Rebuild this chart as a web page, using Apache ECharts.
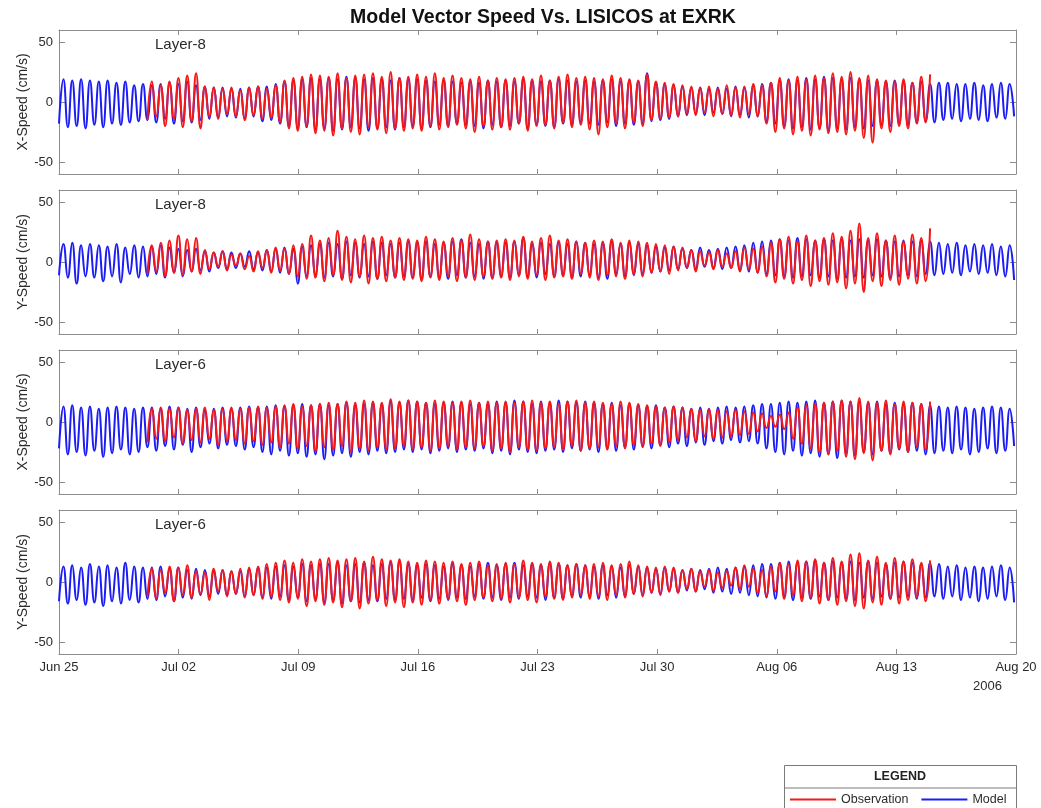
<!DOCTYPE html>
<html>
<head>
<meta charset="utf-8">
<title>Model Vector Speed Vs. LISICOS at EXRK</title>
<script src="https://cdn.jsdelivr.net/npm/echarts@6/dist/echarts.min.js"></script>
<style>
  html, body { margin: 0; padding: 0; background: #ffffff; }
  #chart { width: 1041px; height: 808px; }
</style>
</head>
<body>
<div id="chart"></div>
<script>
// Time axis: days since 2006-06-25 00:00, one tick per week
const dateTicks = ['Jun 25', 'Jul 02', 'Jul 09', 'Jul 16', 'Jul 23', 'Jul 30', 'Aug 06', 'Aug 13', 'Aug 20'];
const yTicks = [-50, 0, 50];

// Tidal extrema (cm/s), alternating trough / crest, one every half M2 cycle
const halfCycleDays = 12.42 / 24 / 2;
const obsStartIndex = 20;   // LISICOS record begins on Jun 30

const layer8XModel = [
  -18, 19, -21, 18, -20, 19, -22, 18, -19, 17, -21, 18, -18, 16, -19, 17, -17, 14, -16, 15,
  -15, 14, -17, 15, -14, 16, -18, 15, -16, 17, -17, 14, -15, 13, -14, 12, -13, 12, -12, 11,
  -13, 11, -14, 12, -12, 13, -16, 13, -15, 15, -18, 17, -20, 18, -22, 19, -21, 20, -23, 19,
  -22, 20, -24, 19, -23, 21, -21, 20, -22, 19, -24, 20, -22, 19, -21, 18, -23, 20, -21, 19,
  -20, 19, -22, 18, -21, 17, -19, 18, -20, 17, -18, 16, -19, 17, -20, 16, -22, 18, -19, 17,
  -21, 18, -20, 17, -18, 19, -22, 18, -19, 17, -20, 18, -21, 19, -18, 18, -19, 17, -17, 18,
  -18, 17, -19, 18, -17, 19, -20, 17, -18, 18, -19, 17, -18, 24, -16, 16, -15, 15, -14, 14,
  -12, 13, -11, 12, -10, 12, -11, 11, -9, 12, -10, 11, -12, 13, -11, 12, -13, 14, -12, 15,
  -16, 16, -18, 18, -20, 19, -22, 18, -21, 20, -23, 19, -22, 21, -24, 20, -22, 19, -23, 20,
  -21, 19, -22, 18, -20, 18, -19, 17, -20, 18, -18, 17, -19, 16, -17, 17, -16, 15, -17, 16,
  -15, 16, -14, 15, -16, 15, -14, 16, -15, 14, -16, 15, -13, 16, -14, 15, -12
];
const layer8XObs = [
  -15, 17, -12, 14, -20, 17, -14, 20, -21, 22, -16, 24, -22, 13, -12, 12, -14, 11, -10, 12,
  -12, 10, -15, 12, -11, 13, -14, 11, -13, 14, -17, 18, -22, 20, -24, 21, -20, 23, -26, 22,
  -24, 21, -28, 24, -22, 20, -25, 22, -27, 23, -21, 24, -23, 21, -26, 25, -22, 20, -24, 21,
  -22, 23, -24, 21, -20, 24, -23, 20, -21, 22, -19, 20, -22, 19, -25, 21, -20, 18, -23, 20,
  -21, 19, -23, 20, -18, 21, -24, 19, -20, 22, -19, 18, -22, 21, -17, 23, -21, 20, -19, 21,
  -23, 20, -27, 19, -21, 22, -18, 20, -22, 19, -17, 18, -20, 23, -15, 17, -14, 16, -13, 15,
  -12, 14, -10, 13, -11, 12, -9, 13, -12, 11, -10, 14, -11, 12, -13, 13, -10, 15, -12, 14,
  -18, 16, -25, 20, -22, 18, -27, 21, -24, 19, -28, 22, -23, 20, -26, 24, -25, 21, -27, 25,
  -24, 20, -30, 22, -34, 19, -22, 18, -25, 17, -20, 19, -22, 16, -18, 21, -17, 23
];

const layer8YModel = [
  -11, 15, -13, 16, -18, 14, -12, 15, -13, 14, -16, 13, -12, 15, -17, 12, -10, 14, -13, 13,
  -12, 13, -10, 14, -13, 12, -9, 11, -12, 10, -8, 11, -7, 9, -8, 8, -5, 9, -6, 8,
  -5, 7, -4, 9, -6, 8, -7, 10, -8, 11, -9, 12, -10, 11, -18, 13, -12, 14, -11, 15,
  -13, 16, -12, 15, -14, 17, -11, 16, -13, 15, -12, 17, -14, 16, -11, 15, -13, 16, -12, 17,
  -13, 16, -14, 17, -12, 15, -13, 16, -14, 17, -11, 19, -13, 16, -12, 15, -14, 17, -13, 16,
  -12, 16, -13, 17, -11, 20, -12, 15, -13, 16, -10, 15, -12, 16, -11, 15, -13, 17, -12, 16,
  -11, 15, -13, 16, -14, 17, -10, 15, -12, 16, -11, 15, -10, 14, -9, 13, -8, 12, -7, 13,
  -6, 11, -5, 10, -6, 12, -4, 10, -5, 11, -6, 12, -5, 13, -7, 14, -8, 16, -9, 17,
  -10, 18, -11, 19, -12, 18, -13, 20, -12, 19, -11, 18, -13, 19, -12, 18, -14, 19, -13, 18,
  -12, 19, -13, 18, -11, 19, -12, 18, -13, 17, -12, 18, -11, 17, -12, 18, -10, 17, -11, 16,
  -10, 15, -9, 16, -11, 14, -8, 15, -10, 14, -9, 15, -11, 13, -12, 14, -15
];
const layer8YObs = [
  -10, 14, -8, 16, -12, 18, -9, 22, -11, 19, -8, 20, -10, 10, -6, 8, -4, 9, -7, 6,
  -3, 7, -6, 5, -8, 9, -5, 10, -9, 12, -7, 11, -10, 14, -12, 15, -14, 22, -13, 18,
  -16, 20, -11, 26, -15, 21, -17, 19, -12, 22, -18, 20, -14, 21, -16, 18, -13, 20, -15, 19,
  -14, 18, -16, 21, -13, 19, -15, 17, -12, 20, -16, 18, -13, 23, -15, 19, -12, 17, -14, 18,
  -13, 19, -15, 18, -12, 21, -14, 17, -11, 20, -15, 22, -13, 18, -12, 19, -14, 17, -10, 16,
  -13, 18, -15, 17, -11, 19, -12, 16, -14, 18, -10, 17, -12, 16, -9, 15, -8, 14, -10, 13,
  -7, 12, -5, 10, -8, 9, -3, 8, -6, 10, -4, 7, -5, 9, -8, 12, -6, 11, -9, 13,
  -12, 16, -17, 19, -14, 21, -18, 17, -15, 22, -20, 18, -16, 20, -19, 24, -17, 21, -22, 26,
  -18, 32, -25, 20, -16, 24, -20, 18, -15, 22, -19, 17, -14, 23, -18, 20, -16, 28
];

const layer6XModel = [
  -22, 13, -27, 14, -25, 12, -28, 13, -24, 11, -29, 12, -26, 13, -23, 12, -27, 11, -25, 12,
  -21, 12, -24, 11, -20, 13, -23, 12, -19, 11, -25, 12, -21, 10, -18, 11, -22, 12, -19, 11,
  -20, 12, -23, 13, -21, 12, -25, 13, -27, 14, -24, 13, -28, 14, -26, 15, -29, 14, -27, 15,
  -31, 14, -28, 15, -26, 16, -29, 14, -25, 15, -27, 16, -24, 15, -26, 17, -25, 16, -23, 18,
  -25, 17, -23, 16, -26, 15, -24, 16, -22, 17, -25, 16, -23, 15, -24, 16, -22, 15, -26, 17,
  -24, 16, -27, 18, -23, 17, -25, 15, -26, 17, -24, 16, -23, 18, -25, 17, -22, 16, -24, 17,
  -23, 16, -25, 15, -22, 16, -24, 14, -21, 15, -23, 14, -20, 13, -22, 14, -19, 12, -21, 13,
  -18, 12, -20, 11, -17, 12, -19, 11, -16, 12, -18, 13, -15, 12, -17, 13, -16, 14, -18, 15,
  -22, 15, -25, 16, -27, 17, -24, 16, -28, 17, -26, 18, -29, 16, -27, 17, -30, 18, -26, 17,
  -28, 17, -25, 16, -27, 17, -24, 15, -26, 16, -23, 15, -25, 16, -24, 15, -27, 14, -26, 13,
  -24, 12, -26, 13, -23, 12, -27, 11, -25, 12, -22, 13, -26, 12, -24, 11, -20
];
const layer6XObs = [
  -17, 11, -14, 12, -16, 11, -13, 12, -18, 10, -15, 11, -17, 12, -14, 10, -19, 11, -16, 12,
  -15, 11, -18, 12, -16, 13, -19, 12, -17, 13, -21, 14, -18, 15, -22, 13, -20, 14, -24, 15,
  -21, 16, -23, 15, -20, 17, -25, 16, -22, 18, -24, 17, -21, 16, -23, 19, -22, 17, -20, 18,
  -23, 17, -21, 16, -24, 18, -22, 17, -20, 16, -23, 17, -21, 18, -22, 16, -20, 17, -24, 16,
  -22, 17, -25, 16, -21, 17, -23, 18, -24, 16, -22, 17, -21, 15, -23, 17, -20, 18, -24, 16,
  -22, 17, -21, 16, -23, 15, -20, 17, -22, 16, -19, 15, -21, 14, -18, 13, -20, 12, -17, 13,
  -15, 12, -13, 11, -16, 10, -12, 11, -14, 10, -13, 9, -12, 10, -11, 9, -10, 8, -8, 7,
  -5, 5, -4, 6, -6, 8, -14, 12, -18, 14, -22, 15, -25, 16, -27, 17, -24, 18, -29, 17,
  -31, 20, -26, 17, -32, 16, -24, 18, -27, 15, -22, 17, -25, 16, -21, 15, -23, 17
];

const layer6YModel = [
  -16, 13, -18, 14, -15, 12, -19, 15, -17, 13, -20, 14, -16, 12, -18, 16, -15, 13, -17, 12,
  -14, 12, -15, 13, -12, 11, -16, 12, -13, 10, -14, 11, -11, 10, -12, 9, -10, 10, -11, 9,
  -10, 9, -12, 11, -11, 12, -13, 12, -14, 13, -12, 14, -15, 13, -13, 15, -16, 14, -14, 15,
  -17, 15, -15, 16, -18, 14, -16, 15, -17, 16, -15, 14, -16, 15, -14, 16, -15, 17, -14, 15,
  -15, 14, -13, 15, -16, 14, -14, 13, -15, 15, -13, 14, -14, 13, -12, 15, -14, 16, -13, 14,
  -15, 15, -13, 16, -14, 14, -12, 15, -13, 14, -15, 16, -13, 15, -14, 14, -12, 15, -13, 14,
  -12, 13, -14, 14, -11, 13, -13, 12, -12, 14, -10, 13, -11, 12, -9, 11, -10, 12, -8, 11,
  -9, 10, -7, 11, -8, 10, -6, 11, -9, 12, -8, 11, -10, 12, -9, 13, -11, 14, -12, 15,
  -13, 15, -14, 16, -12, 17, -15, 16, -13, 17, -14, 18, -12, 16, -15, 17, -13, 16, -14, 17,
  -15, 16, -13, 17, -14, 16, -12, 15, -14, 16, -13, 17, -12, 16, -14, 15, -13, 16, -12, 15,
  -14, 13, -12, 14, -15, 12, -13, 13, -16, 12, -14, 13, -12, 14, -15, 12, -17
];
const layer6YObs = [
  -12, 11, -14, 10, -9, 13, -16, 12, -11, 14, -13, 9, -10, 8, -15, 11, -8, 10, -12, 9,
  -10, 11, -13, 12, -11, 13, -14, 15, -12, 16, -15, 18, -17, 16, -14, 19, -20, 17, -16, 19,
  -19, 20, -17, 18, -21, 19, -16, 20, -22, 17, -18, 21, -15, 19, -20, 18, -17, 19, -21, 17,
  -17, 16, -19, 18, -15, 17, -18, 16, -14, 17, -16, 15, -19, 16, -15, 17, -13, 14, -16, 15,
  -14, 16, -17, 15, -13, 18, -15, 16, -17, 15, -12, 17, -14, 16, -15, 14, -13, 15, -11, 14,
  -14, 15, -12, 16, -15, 14, -11, 15, -13, 17, -10, 14, -12, 13, -9, 12, -11, 13, -8, 12,
  -9, 10, -6, 11, -8, 9, -4, 10, -7, 8, -5, 9, -3, 12, -6, 14, -4, 11, -9, 10,
  -12, 13, -8, 16, -14, 15, -11, 18, -16, 17, -13, 19, -18, 16, -15, 20, -19, 17, -16, 23,
  -20, 24, -22, 18, -17, 21, -19, 16, -14, 20, -18, 17, -15, 19, -13, 16, -16, 18
];

const panels = [
  { layer: 'Layer-8', yName: 'X-Speed (cm/s)', model: layer8XModel, obs: layer8XObs },
  { layer: 'Layer-8', yName: 'Y-Speed (cm/s)', model: layer8YModel, obs: layer8YObs },
  { layer: 'Layer-6', yName: 'X-Speed (cm/s)', model: layer6XModel, obs: layer6XObs },
  { layer: 'Layer-6', yName: 'Y-Speed (cm/s)', model: layer6YModel, obs: layer6YObs }
];

const FONT = '"Liberation Sans", Arial, Helvetica, sans-serif';
const AXIS_GRAY = '#8c8c8c';
const TEXT = '#2b2b2b';
const OBS_RED = '#f51818';
const MODEL_BLUE = '#1c1cf5';

const plotLeft = 59, plotRight = 25, panelTop = 30, panelHeight = 144, panelStep = 160;

const grids = [], xAxes = [], yAxes = [], series = [], graphics = [];

function toPoints(values, startIndex) {
  return values.map((v, i) => [(startIndex + i) * halfCycleDays, v]);
}

panels.forEach((p, i) => {
  const top = panelTop + i * panelStep;
  const isLast = i === panels.length - 1;
  grids.push({ left: plotLeft, right: plotRight, top: top, height: panelHeight, containLabel: false });

  const xBase = {
    gridIndex: i, type: 'value', min: 0, max: 56, interval: 7,
    axisLine: { show: true, onZero: false, lineStyle: { color: AXIS_GRAY, width: 1 } },
    axisTick: { show: true, inside: true, length: 5, lineStyle: { color: AXIS_GRAY } },
    splitLine: { show: false }
  };
  xAxes.push(Object.assign({}, xBase, {
    position: 'bottom',
    axisLabel: {
      show: isLast, margin: 7, color: TEXT, fontFamily: FONT, fontSize: 13,
      formatter: v => dateTicks[Math.round(v / 7)] || ''
    }
  }));
  xAxes.push(Object.assign({}, xBase, { position: 'top', axisLabel: { show: false } }));

  const yBase = {
    gridIndex: i, type: 'value', min: -60, max: 60,
    axisLine: { show: true, onZero: false, lineStyle: { color: AXIS_GRAY, width: 1 } },
    axisTick: { show: true, inside: true, length: 6, customValues: yTicks, lineStyle: { color: AXIS_GRAY } },
    splitLine: { show: false }
  };
  yAxes.push(Object.assign({}, yBase, {
    position: 'left',
    name: p.yName, nameLocation: 'middle', nameGap: 29, nameRotate: 90,
    nameMoveOverlap: false,
    nameTextStyle: { color: TEXT, fontFamily: FONT, fontSize: 14 },
    axisLabel: { show: true, customValues: yTicks, margin: 6, color: TEXT, fontFamily: FONT, fontSize: 13 }
  }));
  yAxes.push(Object.assign({}, yBase, { position: 'right', name: '', axisLabel: { show: false } }));

  series.push({
    name: 'Model', type: 'line', xAxisIndex: 2 * i, yAxisIndex: 2 * i,
    data: toPoints(p.model, 0), smooth: 0.5, showSymbol: false, symbol: 'none',
    lineStyle: { color: MODEL_BLUE, width: 2 }, itemStyle: { color: MODEL_BLUE },
    animation: false, z: 2
  });
  series.push({
    name: 'Observation', type: 'line', xAxisIndex: 2 * i, yAxisIndex: 2 * i,
    data: toPoints(p.obs, obsStartIndex), smooth: 0.5, showSymbol: false, symbol: 'none',
    lineStyle: { color: OBS_RED, width: 2 }, itemStyle: { color: OBS_RED },
    animation: false, z: 3
  });

  graphics.push({
    type: 'text', left: 155, top: top + 7,
    style: { text: p.layer, fill: TEXT, font: '15px ' + FONT }
  });
});

// year under the last date label
graphics.push({
  type: 'text', left: 973, top: 680,
  style: { text: '2006', fill: TEXT, font: '13px ' + FONT }
});

// legend frame
graphics.push({
  type: 'rect', left: 784, top: 765, z: 0,
  shape: { width: 232, height: 50 },
  style: { fill: '#ffffff', stroke: '#7a7a7a', lineWidth: 1 }
});
graphics.push({
  type: 'line', z: 1,
  shape: { x1: 784, y1: 788, x2: 1016, y2: 788 },
  style: { stroke: '#7a7a7a', lineWidth: 1 }
});
graphics.push({
  type: 'text', x: 900, y: 777, z: 1,
  style: { text: 'LEGEND', fill: '#222', font: 'bold 12.5px ' + FONT, textAlign: 'center', textVerticalAlign: 'middle' }
});

const chart = echarts.init(document.getElementById('chart'), null, { renderer: 'canvas' });
chart.setOption({
  backgroundColor: '#ffffff',
  animation: false,
  title: {
    text: 'Model Vector Speed Vs. LISICOS at EXRK',
    left: 538, textAlign: 'center', top: 3,
    textStyle: { fontFamily: FONT, fontSize: 19.5, fontWeight: 'bold', color: '#111' }
  },
  legend: {
    data: ['Observation', 'Model'],
    left: 785, top: 788, z: 10,
    icon: 'rect', itemWidth: 46, itemHeight: 2, itemGap: 13,
    textStyle: { fontFamily: FONT, fontSize: 12.5, color: TEXT }
  },
  grid: grids,
  xAxis: xAxes,
  yAxis: yAxes,
  series: series,
  graphic: graphics
});
</script>
</body>
</html>
